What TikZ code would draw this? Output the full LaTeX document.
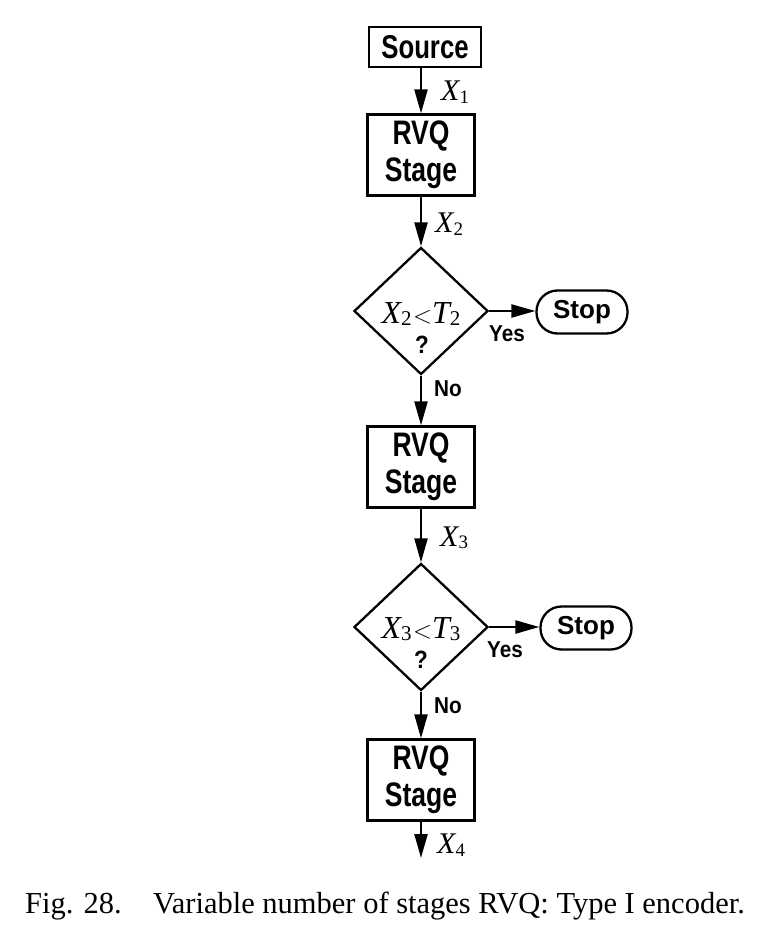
\documentclass[tikz,border=0pt]{standalone}
\usepackage{fontspec}
\setmainfont{Liberation Serif}
\newfontfamily\boxfont[FakeStretch=0.78]{Liberation Sans Bold}
\newfontfamily\lblfont[FakeStretch=0.9]{Liberation Sans Bold}
\newfontfamily\stopfont{Liberation Sans Bold}
\usetikzlibrary{arrows.meta,shapes.geometric}
\newcommand{\Xv}[2]{{\fontsize{30}{34}\selectfont\itshape #1}\raisebox{-0.55ex}{\fontsize{19}{22}\selectfont #2}}
\newcommand{\Xd}[2]{{\fontsize{32}{36}\selectfont\itshape #1}\raisebox{-0.55ex}{\fontsize{21}{24}\selectfont #2}}
\tikzset{
  stagebox/.style={draw, line width=2.3pt, minimum width=107pt, minimum height=81pt, inner sep=0pt, align=center,
     font=\boxfont\fontsize{34}{37}\selectfont},
  srcbox/.style={draw, line width=2.3pt, minimum width=112pt, minimum height=40pt, inner sep=0pt,
     font=\boxfont\fontsize{33}{36}\selectfont},
  decbox/.style={draw, diamond, line width=2.3pt, minimum width=134pt, minimum height=127pt, inner sep=0pt},
  stopbox/.style={draw, rounded corners=21pt, line width=2.3pt, minimum width=91pt, minimum height=43pt, inner sep=0pt,
     font=\stopfont\fontsize{26}{30}\selectfont},
  flow/.style={-{Triangle[length=24pt,width=13pt]}, line width=2.3pt},
  yn/.style={font=\lblfont\fontsize{23}{26}\selectfont, inner sep=0pt},
  qm/.style={font=\lblfont\fontsize{25}{28}\selectfont, inner sep=0pt},
  xlab/.style={anchor=west, inner sep=0pt},
  captxt/.style={inner sep=0pt, font=\fontsize{30.5}{34}\selectfont},
}
\begin{document}
\begin{tikzpicture}[x=1pt,y=-1pt]
\useasboundingbox (0,0) rectangle (780,952);
\fill[white] (0,0) rectangle (780,952);

\node[srcbox] (src) at (425,47) {Source};
\node[stagebox] (s1) at (421,155) {RVQ\\Stage};
\node[decbox] (d1) at (421,311) {};
\node[inner sep=0pt] (t1) at (421,314) {\Xd{X}{2}\,{\fontsize{32}{36}\selectfont$<$}\Xd{T}{2}};
\node[qm] (q1) at (422,345) {?};
\node[stopbox] (stop1) at (582,312) {Stop};
\node[stagebox] (s2) at (421,467) {RVQ\\Stage};
\node[decbox] (d2) at (421,627) {};
\node[inner sep=0pt] (t2) at (421,629) {\Xd{X}{3}\,{\fontsize{32}{36}\selectfont$<$}\Xd{T}{3}};
\node[qm] (q2) at (421,660) {?};
\node[stopbox] (stop2) at (586,628) {Stop};
\node[stagebox] (s3) at (421,780) {RVQ\\Stage};
\coordinate (out) at (421,858);

\draw[flow] (src.south -| s1.north) -- (s1.north);
\draw[flow] (s1.south) -- (d1.north);
\draw[flow] (d1.east) -- (d1.east -| stop1.west);
\draw[flow] (d1.south) -- (s2.north);
\draw[flow] (s2.south) -- (d2.north);
\draw[flow] (d2.east) -- (d2.east -| stop2.west);
\draw[flow] (d2.south) -- (s3.north);
\draw[flow] (s3.south) -- (out);

\node[xlab] (x1) at (441,92) {\Xv{X}{1}};
\node[xlab] (x2) at (435,224) {\Xv{X}{2}};
\node[xlab] (x3) at (440,538) {\Xv{X}{3}};
\node[xlab] (x4) at (437,845) {\Xv{X}{4}};

\node[yn] (no1) at (448,389) {No};
\node[yn] (no2) at (448,706) {No};
\node[yn] (yes1) at (507,334) {Yes};
\node[yn] (yes2) at (505,650) {Yes};

\node[captxt, anchor=base east] (capnum) at (122,913) {Fig. 28.};
\node[captxt, anchor=base west] (captext) at (153,913) {Variable number of stages RVQ: Type I encoder.};
\end{tikzpicture}
\end{document}
